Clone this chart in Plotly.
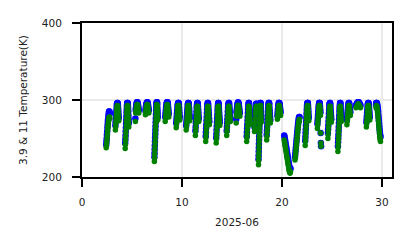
import numpy as np
import plotly.graph_objects as go

# Daytime observation windows (day of month, June 2025)
window_start = [2.42, 3.34, 4.32, 5.34, 6.34, 7.24, 8.32, 9.42, 10.42, 11.34, 12.37, 13.42, 14.47, 15.42,
                16.47, 17.25, 17.65, 18.47, 19.54, 20.22, 21.30, 22.32, 23.54, 24.59, 25.59, 26.49, 27.40, 28.44, 29.40]
window_end = [2.78, 3.68, 4.68, 5.68, 6.68, 7.58, 8.68, 9.78, 10.78, 11.68, 12.73, 13.78, 14.83, 15.78,
              16.83, 17.50, 17.92, 18.83, 19.86, 20.85, 21.75, 22.68, 23.91, 24.93, 25.93, 26.83, 27.85, 28.78, 29.85]

# 11 µm brightness temperature (K), samples in time order within each window
temp_11um = [
    [238, 241, 244, 248, 252, 256, 260, 264, 267, 270, 273, 275, 277, 278, 278, 276],
    [261, 265, 269, 273, 277, 281, 285, 288, 291, 293, 293, 292, 289, 285, 281, 277, 273],
    [237, 242, 247, 252, 257, 262, 267, 272, 277, 282, 286, 290, 292, 293, 293, 292, 289, 285, 280, 275, 270, 265],
    [272, 283, 286, 289, 291, 293, 294, 294, 293, 291, 288, 285, 283],
    [281, 284, 287, 290, 292, 293, 294, 294, 293, 291, 288, 285, 283],
    [220, 225, 230, 235, 240, 245, 250, 255, 260, 265, 270, 275, 280, 285, 289, 292, 293, 294, 294, 293, 290, 286, 282, 278, 274],
    [272, 276, 280, 284, 288, 291, 293, 294, 294, 293, 290, 286, 282, 278],
    [264, 268, 272, 276, 280, 284, 288, 291, 293, 293, 293, 290, 286, 282, 278, 274],
    [261, 265, 269, 273, 277, 281, 285, 289, 291, 293, 293, 292, 289, 285, 281, 277, 273],
    [254, 259, 264, 269, 274, 279, 284, 288, 291, 292, 292, 291, 288, 284, 280, 276, 272],
    [246, 251, 256, 261, 266, 271, 276, 281, 286, 290, 292, 292, 291, 288, 284, 280, 276, 272, 268],
    [244, 249, 254, 259, 264, 269, 274, 279, 284, 288, 291, 292, 292, 290, 287, 283, 279, 275, 271, 267],
    [254, 259, 264, 269, 274, 279, 284, 288, 291, 292, 292, 291, 288, 284, 280, 276, 272],
    [270, 279, 282, 285, 288, 291, 293, 293, 293, 291, 288, 285, 282, 279],
    [246, 251, 256, 261, 266, 271, 276, 281, 286, 290, 292, 292, 291, 288, 284, 280, 276, 272, 268],
    [259, 264, 270, 276, 282, 287, 290, 292, 292, 290, 287],
    [216, 221, 226, 231, 236, 241, 246, 251, 256, 261, 266, 271, 276, 281, 286, 290, 292, 293, 293, 291, 287, 283, 279, 275, 271],
    [248, 253, 258, 263, 268, 273, 278, 283, 287, 290, 292, 293, 292, 290, 286, 282, 278, 274, 270],
    [275, 279, 283, 287, 290, 292, 293, 293, 292, 289, 286, 283, 280],
    [248, 245, 242, 239, 236, 233, 230, 227, 224, 221, 218, 215, 212, 209, 207, 206, 205, 207],
    [222, 225, 229, 233, 237, 241, 245, 249, 253, 257, 261, 264, 267, 270, 272, 274, 275],
    [241, 246, 251, 256, 261, 266, 271, 276, 281, 285, 289, 291, 293, 293, 292, 289, 285, 281, 277, 273],
    [263, 267, 271, 275, 279, 283, 287, 290, 292, 293, 293, 291, 288, 284, 280, 257, 244, 240],
    [250, 255, 260, 265, 270, 275, 280, 285, 289, 291, 292, 292, 290, 287, 283, 279, 275, 271],
    [233, 238, 243, 248, 253, 258, 263, 268, 273, 278, 283, 287, 290, 292, 292, 291, 288, 284, 280, 276, 272],
    [268, 272, 276, 280, 284, 288, 291, 293, 293, 292, 289, 286, 283, 280],
    [290, 291, 292, 293, 294, 295, 294, 293, 292, 291, 290],
    [265, 269, 273, 277, 281, 285, 289, 291, 293, 293, 292, 289, 286, 282, 278, 274],
    [290, 292, 293, 292, 290, 287, 284, 281, 277, 273, 269, 265, 261, 257, 253, 250, 248, 246],
]

# 3.9 µm brightness temperature (K)
temp_39um = [
    [242, 246, 250, 255, 259, 264, 268, 272, 275, 278, 281, 283, 285, 285, 284, 282],
    [267, 271, 275, 279, 283, 287, 291, 294, 295, 296, 296, 295, 293, 289, 285, 281, 277],
    [244, 249, 254, 259, 264, 269, 274, 279, 284, 288, 292, 294, 296, 296, 296, 295, 293, 289, 285, 280, 275, 270],
    [276, 287, 290, 293, 295, 296, 297, 297, 296, 294, 292, 289, 287],
    [286, 289, 292, 294, 295, 296, 297, 297, 296, 294, 292, 289, 287],
    [226, 231, 236, 241, 246, 251, 256, 261, 266, 271, 276, 281, 286, 290, 293, 295, 296, 297, 297, 296, 294, 290, 286, 282, 278],
    [278, 282, 286, 290, 293, 295, 296, 297, 297, 296, 294, 290, 286, 282],
    [270, 274, 278, 282, 286, 290, 293, 295, 296, 296, 296, 294, 290, 286, 282, 278],
    [267, 271, 275, 279, 283, 287, 291, 294, 295, 296, 296, 295, 293, 289, 285, 281, 277],
    [260, 265, 270, 275, 280, 285, 290, 293, 295, 296, 296, 295, 292, 288, 284, 280, 276],
    [253, 258, 263, 268, 273, 278, 283, 288, 292, 294, 296, 296, 295, 292, 288, 284, 280, 276, 272],
    [251, 256, 261, 266, 271, 276, 281, 286, 290, 293, 295, 296, 296, 294, 291, 287, 283, 279, 275, 271],
    [260, 265, 270, 275, 280, 285, 290, 293, 295, 296, 296, 295, 292, 288, 284, 280, 276],
    [275, 284, 287, 290, 293, 295, 296, 297, 296, 295, 292, 289, 286, 283],
    [253, 258, 263, 268, 273, 278, 283, 288, 292, 294, 296, 296, 295, 292, 288, 284, 280, 276, 272],
    [265, 270, 276, 282, 287, 291, 294, 295, 295, 294, 291],
    [223, 228, 233, 238, 243, 248, 253, 258, 263, 268, 273, 278, 283, 287, 291, 294, 295, 296, 296, 295, 291, 287, 283, 279, 275],
    [255, 260, 265, 270, 275, 280, 285, 289, 292, 294, 296, 296, 296, 294, 290, 286, 282, 278, 274],
    [280, 284, 288, 292, 294, 296, 296, 296, 295, 293, 290, 287, 284],
    [254, 252, 249, 246, 243, 240, 237, 234, 231, 228, 225, 222, 219, 216, 213, 211, 210, 211],
    [226, 230, 234, 238, 242, 246, 250, 254, 258, 262, 266, 269, 272, 275, 277, 278, 278],
    [247, 252, 257, 262, 267, 272, 277, 282, 287, 291, 294, 295, 296, 296, 296, 293, 289, 285, 281, 277],
    [269, 273, 277, 281, 285, 289, 292, 294, 296, 296, 296, 295, 292, 288, 284, 257, 244, 240],
    [257, 262, 267, 272, 277, 282, 287, 291, 294, 295, 296, 296, 294, 291, 287, 283, 279, 275],
    [240, 245, 250, 255, 260, 265, 270, 275, 280, 285, 289, 292, 294, 296, 296, 295, 292, 288, 284, 280, 276],
    [274, 278, 282, 286, 290, 293, 295, 296, 296, 295, 293, 290, 287, 284],
    [293, 294, 295, 296, 297, 297, 297, 296, 295, 294, 293],
    [271, 275, 279, 283, 287, 291, 294, 295, 296, 296, 295, 293, 290, 286, 282, 278],
    [294, 296, 296, 296, 295, 293, 291, 288, 285, 281, 277, 273, 269, 265, 261, 257, 254, 252],
]

x_ticks = [0, 10, 20, 30]
y_ticks = [200, 300, 400]


def build(series):
    xs, ys = [], []
    for s, e, vals in zip(window_start, window_end, series):
        xs += list(np.linspace(s, e, len(vals)))
        ys += vals
    return xs, ys


x39, y39 = build(temp_39um)
x11, y11 = build(temp_11um)

fig = go.Figure()
fig.add_trace(go.Scatter(x=x39, y=y39, mode="markers", name="3.9",
                         marker=dict(color="#0000ff", size=6.5, line=dict(width=0))))
fig.add_trace(go.Scatter(x=x11, y=y11, mode="markers", name="11",
                         marker=dict(color="#008000", size=5.5, line=dict(width=0))))

font = dict(family="DejaVu Sans", size=10.5, color="#222222")
fig.update_layout(
    width=411, height=248,
    margin=dict(l=82, r=19, t=23, b=71),
    plot_bgcolor="white", paper_bgcolor="white",
    showlegend=False, font=font,
)
axis_common = dict(
    showgrid=True, gridcolor="#ebebeb", gridwidth=2,
    showline=True, mirror=True, linecolor="black", linewidth=2,
    ticks="outside", ticklen=8, tickwidth=2, tickcolor="black",
    zeroline=False, tickfont=font,
)
fig.update_xaxes(range=[0, 31], tickvals=x_ticks, ticklabelstandoff=6,
                 title=dict(text="2025-06", font=font, standoff=12), **axis_common)
fig.update_yaxes(range=[200, 400], tickvals=y_ticks, ticklabelstandoff=8,
                 title=dict(text="3.9 & 11 Temperature(K)", font=font, standoff=12), **axis_common)

fig.write_html("out.html")
